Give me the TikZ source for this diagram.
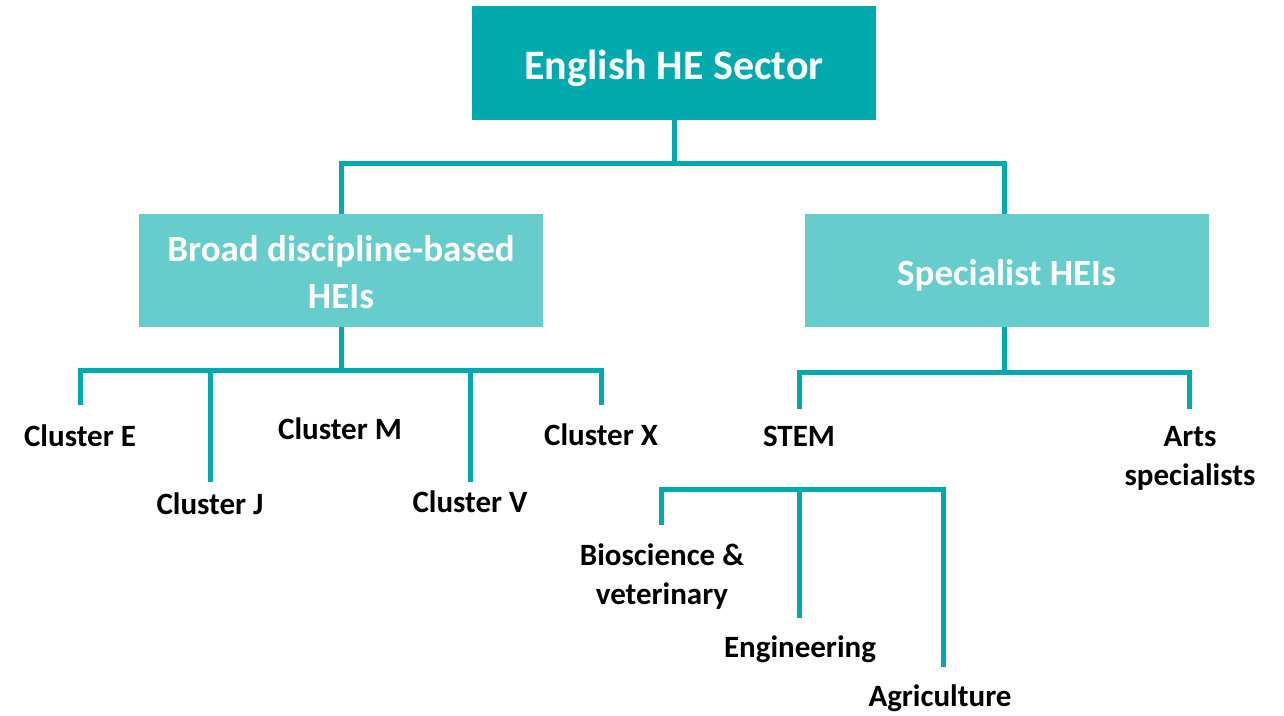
\documentclass[tikz,border=0pt]{standalone}
\usepackage{fontspec}
\setmainfont{Carlito}
\definecolor{teal1}{HTML}{00AAAD}
\definecolor{teal2}{HTML}{66CCCC}
\begin{document}
\begin{tikzpicture}[x=1pt,y=-1pt,
  topbox/.style={fill=teal1,text=white,minimum width=404pt,minimum height=114pt,inner sep=0pt,font=\fontsize{42}{50}\selectfont\bfseries},
  midbox/.style={fill=teal2,text=white,minimum width=404pt,minimum height=113pt,inner sep=0pt,align=center,font=\fontsize{37}{46}\selectfont\bfseries},
  leaf/.style={inner sep=0pt,align=center,text=black,font=\fontsize{31}{39}\selectfont\bfseries},
  conn/.style={draw=teal1,line width=5pt,line join=miter}]
\path[use as bounding box,fill=white] (0,0) rectangle (1284,715);
\node[topbox,text depth=0pt] (top) at (674,63) {\raisebox{-4pt}{English HE Sector}};
\node[midbox,text depth=0pt] (broad) at (341,270.5) {Broad discipline-based\\[-3pt]\raisebox{-4pt}{HEIs}};
\node[midbox,text depth=0pt] (spec) at (1006.5,270.5) {\raisebox{-4pt}{Specialist HEIs}};
% leaves
\node[leaf] (cE) at (80,436) {Cluster E};
\node[leaf] (cJ) at (210,504) {Cluster J};
\node[leaf] (cM) at (340,429) {Cluster M};
\node[leaf] (cV) at (470,502) {Cluster V};
\node[leaf] (cX) at (601,435) {Cluster X};
\node[leaf] (stem) at (799,436) {STEM};
\node[leaf] (arts) at (1190,458) {Arts\\specialists};
\node[leaf] (bio) at (662,577) {Bioscience \&\\veterinary};
\node[leaf] (eng) at (800,649) {Engineering};
\node[leaf] (agr) at (940,698) {Agriculture};
% coordinates
\coordinate (h1) at (674,163);
\coordinate (h2) at (341,370);
\coordinate (eE) at (80,405);
\coordinate (eJ) at (210,482);
\coordinate (eV) at (470,482);
\coordinate (eX) at (601,405);
\coordinate (h3) at (1004,372);
\coordinate (eS) at (799,409);
\coordinate (eA) at (1189,409);
\coordinate (h4) at (661,489);
\coordinate (h5) at (943,489);
\coordinate (eB) at (661,525);
\coordinate (eEn) at (799,618);
\coordinate (eAg) at (943,667);
% connectors
\draw[conn] (top.south) -- (h1);
\draw[conn] (h1) -| (broad.north);
\draw[conn] (h1) -| ([xshift=-2.5pt]spec.north);
\draw[conn] (broad.south) -- (h2);
\draw[conn] (h2) -| (eE);
\draw[conn] (h2) -| (eJ);
\draw[conn] (h2) -| (eV);
\draw[conn] (h2) -| (eX);
\draw[conn] ([xshift=-2.5pt]spec.south) -- (h3);
\draw[conn] (h3) -| (eS);
\draw[conn] (h3) -| (eA);
\draw[conn] (eB) |- (h5) -- (eAg);
\draw[conn] (eEn |- h4) -- (eEn);
\end{tikzpicture}
\end{document}
